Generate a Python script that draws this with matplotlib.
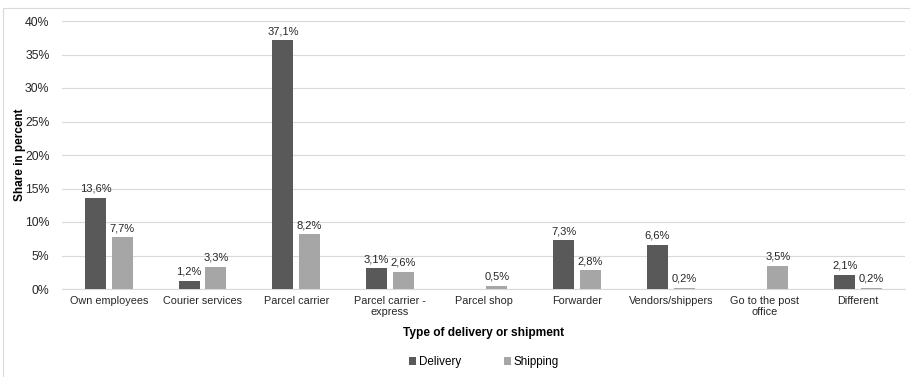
import matplotlib
matplotlib.use("Agg")
import matplotlib.pyplot as plt
import numpy as np
from matplotlib.patches import Rectangle

plt.rcParams['font.family'] = ['Liberation Sans', 'DejaVu Sans']

categories = ["Own employees", "Courier services", "Parcel carrier", "Parcel carrier -\nexpress",
              "Parcel shop", "Forwarder", "Vendors/shippers", "Go to the post\noffice", "Different"]
delivery = [13.6, 1.2, 37.1, 3.1, 0.0, 7.3, 6.6, 0.0, 2.1]
shipping = [7.7, 3.3, 8.2, 2.6, 0.5, 2.8, 0.2, 3.5, 0.2]
yticks = [0, 5, 10, 15, 20, 25, 30, 35, 40]

c_del = "#595959"
c_ship = "#a6a6a6"

fig = plt.figure(figsize=(9.1, 3.77), dpi=100)
ax = fig.add_axes([62/910, 1-289/377, (905-62)/910, (289-21)/377])

x = np.arange(len(categories))
w = 0.225
off = 0.142
b1 = ax.bar(x - off, delivery, w, color=c_del, label="Delivery", zorder=3)
b2 = ax.bar(x + off, shipping, w, color=c_ship, label="Shipping", zorder=3)

def fmt(v):
    return f"{v:.1f}".replace(".", ",") + "%"

for bars, vals in ((b1, delivery), (b2, shipping)):
    for r, v in zip(bars, vals):
        if v > 0:
            ax.text(r.get_x() + r.get_width()/2, v + 0.6, fmt(v), ha="center", va="bottom",
                    fontsize=8, color="#262626")

ax.set_xlim(-0.5, len(categories) - 0.5)
ax.set_ylim(0, 40)
ax.set_yticks(yticks)
ax.set_yticklabels([f"{t}%" for t in yticks], fontsize=8.8, color="#262626")
ax.set_xticks(x)
ax.set_xticklabels(categories, fontsize=7.8, color="#262626", linespacing=1.15)
ax.tick_params(length=0, pad=5)
ax.tick_params(axis="y", pad=9)
ax.grid(axis="y", color="#d9d9d9", linewidth=0.8, zorder=0)
for s in ("top", "right", "left"):
    ax.spines[s].set_visible(False)
ax.spines["bottom"].set_color("#d9d9d9")

ax.set_ylabel("Share in percent", fontsize=8.5, fontweight="bold", color="#000000", labelpad=-1)
ax.set_xlabel("Type of delivery or shipment", fontsize=8.6, fontweight="bold", color="#000000", labelpad=7)

fig.legend(handles=[b1, b2], labels=["Delivery", "Shipping"], loc="center",
           bbox_to_anchor=(484/910, 1-362/377), ncol=2, frameon=False, fontsize=8.4,
           handlelength=0.6, handleheight=0.6, columnspacing=3.6, handletextpad=0.3)

fig.patches.append(Rectangle((3/910, -0.1), 1.0, 1.1 - 8/377, transform=fig.transFigure,
                             fill=False, edgecolor="#d9d9d9", linewidth=0.8))

fig.savefig("out.png", dpi=100, facecolor="white")
